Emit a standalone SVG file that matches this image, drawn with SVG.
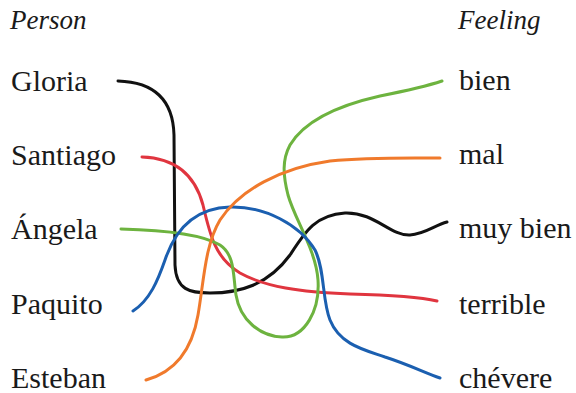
<svg xmlns="http://www.w3.org/2000/svg" width="576" height="393" viewBox="0 0 576 393">
<style>
text{font-family:"Liberation Serif","Times New Roman",serif;fill:#1a1a1a;font-size:30px}
.h{font-style:italic;font-size:27px}
path{fill:none;stroke-width:3;stroke-linecap:round}
</style>
<rect width="576" height="393" fill="#fff"/>
<g id="headers">
<text class="h" x="10" y="29">Person</text>
<text class="h" x="458" y="29">Feeling</text>
</g>
<g id="person-gloria"><text x="11" y="91">Gloria</text></g>
<g id="person-santiago"><text x="11" y="165">Santiago</text></g>
<g id="person-angela"><text x="11" y="239">Ángela</text></g>
<g id="person-paquito"><text x="11" y="314">Paquito</text></g>
<g id="person-esteban"><text x="11" y="388">Esteban</text></g>
<g id="feeling-bien"><text x="459" y="90">bien</text></g>
<g id="feeling-mal"><text x="459" y="164">mal</text></g>
<g id="feeling-muybien"><text x="459" y="238">muy bien</text></g>
<g id="feeling-terrible"><text x="459" y="314">terrible</text></g>
<g id="feeling-chevere"><text x="459" y="388">chévere</text></g>
<g id="connectors">
<path stroke="#111" d="M118,81 C152,82 173,98 174,135 L175,265 C176,290 190,293 210,293 C240,293 268,285 290,255 C305,232 315,215 345,213 C375,212 390,236 410,235 C425,234 435,225 447,222"/>
<path stroke="#e0353f" d="M142,157 C175,158 195,175 203,205 C210,235 215,258 240,273 C265,287 300,292 350,294 C390,295 420,297 437,301"/>
<path stroke="#6db33f" d="M121,229 C160,230 200,233 220,245 C235,255 233,275 236,295 C240,320 260,336 282,337 C305,338 320,310 318,280 C316,250 295,220 288,195 C283,175 282,160 290,145 C305,120 340,105 380,96 C410,90 430,85 442,81"/>
<path stroke="#1b5fb0" d="M133,311 C150,300 158,280 165,260 C175,230 195,208 230,207 C265,206 300,225 315,250 C325,270 322,300 330,320 C340,345 365,350 385,357 C410,365 425,373 440,378"/>
<path stroke="#f07a2c" d="M146,380 C175,372 192,350 198,315 C204,280 205,245 220,220 C240,190 280,168 330,161 C370,157 410,158 440,158"/>
</g>
</svg>
